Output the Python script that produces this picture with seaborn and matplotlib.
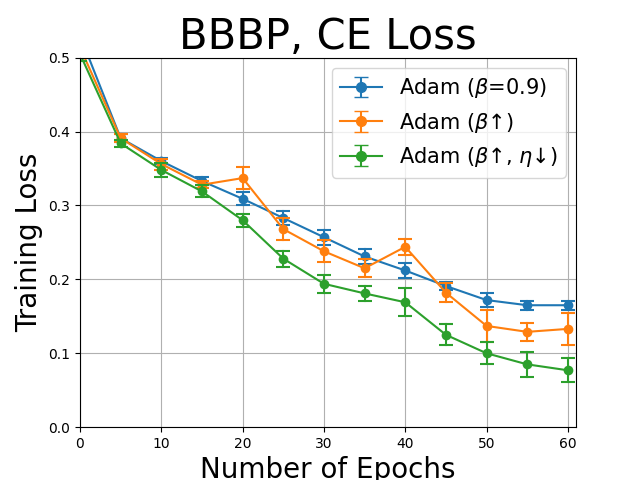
import matplotlib
matplotlib.use("Agg")
import matplotlib.pyplot as plt
import seaborn as sns
import pandas as pd
import numpy as np

epochs = [0, 5, 10, 15, 20, 25, 30, 35, 40, 45, 50, 55, 60]
series_names = [r"Adam ($\beta$=0.9)", "Adam ($\\beta$\u2191)", "Adam ($\\beta$\u2191, $\\eta$\u2193)"]

adam_mean = [0.530, 0.391, 0.360, 0.333, 0.309, 0.283, 0.257, 0.231, 0.212, 0.191, 0.172, 0.165, 0.165]
adam_err = [0.010, 0.005, 0.004, 0.006, 0.009, 0.010, 0.010, 0.010, 0.010, 0.005, 0.009, 0.006, 0.006]

beta_mean = [0.514, 0.391, 0.356, 0.328, 0.337, 0.268, 0.238, 0.215, 0.244, 0.182, 0.137, 0.129, 0.133]
beta_err = [0.010, 0.005, 0.0075, 0.005, 0.015, 0.015, 0.015, 0.012, 0.011, 0.013, 0.022, 0.012, 0.022]

beta_eta_mean = [0.505, 0.384, 0.348, 0.319, 0.280, 0.228, 0.194, 0.181, 0.169, 0.125, 0.100, 0.085, 0.077]
beta_eta_err = [0.010, 0.005, 0.0095, 0.008, 0.0085, 0.011, 0.012, 0.010, 0.019, 0.014, 0.015, 0.017, 0.016]

colors = ["#1f77b4", "#ff7f0e", "#2ca02c"]

rows = []
for name, means, errs in zip(series_names,
                             [adam_mean, beta_mean, beta_eta_mean],
                             [adam_err, beta_err, beta_eta_err]):
    for x, m, e in zip(epochs, means, errs):
        rows.append({"epoch": x, "loss": m - e, "opt": name})
        rows.append({"epoch": x, "loss": m + e, "opt": name})
df = pd.DataFrame(rows)

fig, ax = plt.subplots(figsize=(6.4, 4.8), dpi=100)
sns.lineplot(data=df, x="epoch", y="loss", hue="opt", palette=colors,
             hue_order=series_names, estimator="mean",
             errorbar=lambda v: (v.min(), v.max()), err_style="bars",
             err_kws={"capsize": 5, "elinewidth": 1.5, "capthick": 1.5},
             marker="o", markersize=7, markeredgewidth=0, linewidth=1.5,
             legend=False, ax=ax)

# legend proxies with errorbar look
handles = []
for name, c in zip(series_names, colors):
    h = ax.errorbar([np.nan], [np.nan], yerr=[np.nan], color=c, marker="o",
                    markersize=7, capsize=5, linewidth=1.5, label=name)
    handles.append(h)
ax.legend(handles=handles, labels=series_names, loc="upper right", fontsize=15)

ax.set_xlim(0, 61)
ax.set_ylim(0, 0.5)
ax.set_xticks([0, 10, 20, 30, 40, 50, 60])
ax.set_yticks([0.0, 0.1, 0.2, 0.3, 0.4, 0.5])
ax.grid(True)
ax.set_title("BBBP, CE Loss", fontsize=30)
ax.set_xlabel("Number of Epochs", fontsize=20)
ax.set_ylabel("Training Loss", fontsize=20)

fig.subplots_adjust(left=0.125, right=0.9, top=0.88, bottom=0.11)
fig.savefig("out.png", dpi=100)
